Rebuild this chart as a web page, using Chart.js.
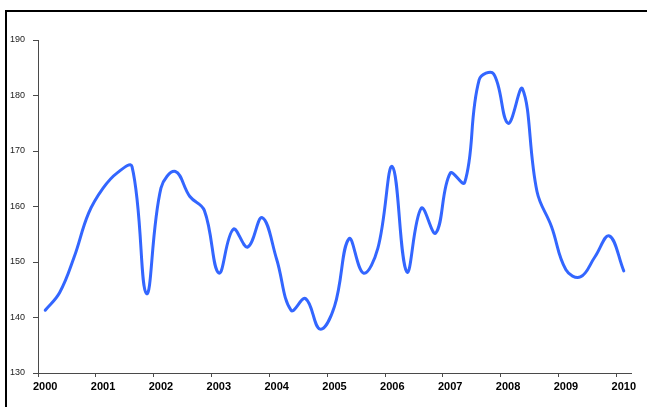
<!DOCTYPE html>
<html>
<head>
<meta charset="utf-8">
<script src="https://cdn.jsdelivr.net/npm/chart.js@4/dist/chart.umd.min.js"></script>
<style>
  html, body { margin: 0; padding: 0; background: #fff; overflow: hidden; }
  #wrap { position: relative; width: 647px; height: 407px; }
  #frame {
    position: absolute; left: 5px; top: 10px; width: 700px; height: 500px;
    border-top: 2px solid #000; border-left: 2px solid #000;
  }
  canvas { position: absolute; left: 0; top: 0; }
</style>
</head>
<body>
<div id="wrap">
  <div id="frame"></div>
  <canvas id="chart" width="647" height="407"></canvas>
</div>
<script>
// Quarterly series, 2000 Q1 – 2010 Q1
const years = ['2000','2001','2002','2003','2004','2005','2006','2007','2008','2009','2010'];
const quarters = ['Q1','Q2','Q3','Q4'];
const values = [
  141.3, 144.5, 150.9, 158.8, 163.3, 166.1, 167.2, 144.3,   // 2000 - 2001
  163.3, 166.3, 161.8, 159.3, 148.0, 155.9, 152.7, 158.0,   // 2002 - 2003
  150.5, 141.3, 143.4, 137.9, 142.0, 154.2, 148.0, 152.5,   // 2004 - 2005
  167.2, 148.2, 159.7, 155.2, 166.0, 164.3, 182.8, 183.9,   // 2006 - 2007
  175.0, 181.2, 162.7, 156.4, 148.6, 147.3, 150.9, 154.7,   // 2008 - 2009
  148.4                                                     // 2010
];
const yTicks = { min: 130, max: 190, step: 10 };

// one category per quarter; the year label sits on the first quarter
const labels = values.map((_, i) => years[Math.floor(i / 4)] + ' ' + quarters[i % 4]);

const axisColor = '#4a4a4a';

new Chart(document.getElementById('chart'), {
  type: 'line',
  data: {
    labels: labels,
    datasets: [{
      data: values,
      borderColor: '#3366FF',
      borderWidth: 3,
      pointRadius: 0,
      fill: false,
      tension: 0.4,
      borderCapStyle: 'round',
      borderJoinStyle: 'round'
    }]
  },
  options: {
    responsive: false,
    animation: false,
    events: [],
    layout: { padding: { left: 0, top: 40, right: 16, bottom: 0 } },
    plugins: { legend: { display: false }, tooltip: { enabled: false } },
    scales: {
      x: {
        type: 'category',
        offset: true,
        afterFit: (scale) => { scale.height = 34; },
        border: { display: true, color: axisColor, width: 1 },
        grid: {
          offset: true,
          drawOnChartArea: false,
          drawTicks: true,
          tickLength: 4,
          tickColor: (ctx) => (ctx.index % 4 === 0 && ctx.index < values.length) ? axisColor : 'rgba(0,0,0,0)'
        },
        ticks: {
          autoSkip: false,
          maxRotation: 0,
          padding: 3,
          color: '#000',
          font: { family: 'Liberation Sans, Arial, sans-serif', size: 11, weight: 'bold' },
          callback: (v, i) => (i % 4 === 0) ? years[i / 4] : ''
        }
      },
      y: {
        min: yTicks.min,
        max: yTicks.max,
        afterFit: (scale) => { scale.width = 38; },
        border: { display: true, color: axisColor, width: 1 },
        grid: { drawOnChartArea: false, drawTicks: true, tickLength: 5, color: axisColor },
        ticks: {
          stepSize: yTicks.step,
          padding: 8,
          color: '#222',
          font: { family: 'Liberation Sans, Arial, sans-serif', size: 9 }
        }
      }
    }
  }
});
</script>
</body>
</html>
